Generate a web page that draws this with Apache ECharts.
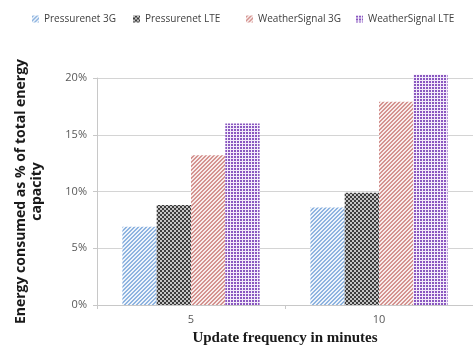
<!DOCTYPE html>
<html>
<head>
<meta charset="utf-8">
<script src="https://cdn.jsdelivr.net/npm/echarts@6/dist/echarts.min.js"></script>
<style>
  html, body { margin: 0; padding: 0; background: #fff; }
  #chart { width: 473px; height: 352px; }
</style>
</head>
<body>
<div id="chart"></div>
<script>
const categories = ["5", "10"];
const seriesNames = ["Pressurenet 3G", "Pressurenet LTE", "WeatherSignal 3G", "WeatherSignal LTE"];
const pressurenet3G = [6.9, 8.6];
const pressurenetLTE = [8.8, 9.9];
const weatherSignal3G = [13.2, 17.9];
const weatherSignalLTE = [16.0, 20.3];
const yMin = 0;
const yMax = 20;
const yStep = 5;

// small canvas tiles used as fill patterns
const makeTile = (size, pick) => {
  const c = document.createElement("canvas");
  c.width = c.height = size;
  const ctx = c.getContext("2d");
  for (let x = 0; x < size; x++) {
    for (let y = 0; y < size; y++) {
      ctx.fillStyle = pick(x, y);
      ctx.fillRect(x, y, 1, 1);
    }
  }
  return { image: c, repeat: "repeat" };
};

const bluePattern = makeTile(4, (x, y) => ((x + y) % 4 < 2 ? "#8fb4e0" : "#eef4fb"));
const checkPattern = makeTile(4, (x, y) =>
  (Math.floor(x / 2) + Math.floor(y / 2)) % 2 ? "#3c3c3c" : "#c4c4c4"
);
const redPattern = makeTile(4, (x, y) => ((x + y) % 4 < 2 ? "#d49390" : "#f8eceb"));
const purplePattern = makeTile(3, (x, y) => (x === 2 || y === 2 ? "#f3ecfa" : "#8a58c0"));

const patterns = [bluePattern, checkPattern, redPattern, purplePattern];
const values = [pressurenet3G, pressurenetLTE, weatherSignal3G, weatherSignalLTE];
const legendLeft = [27, 128, 241, 351];

const chart = echarts.init(document.getElementById("chart"));

const option = {
  animation: false,
  legend: seriesNames.map((name, i) => ({
    data: [name],
    left: legendLeft[i],
    top: 9,
    icon: "rect",
    itemWidth: 7,
    itemHeight: 7,
    itemGap: 4,
    textStyle: { fontSize: 10, color: "#404040", fontFamily: "Open Sans, sans-serif" },
  })),
  grid: { left: 97, top: 78, width: 384, bottom: 47 },
  xAxis: {
    type: "category",
    data: categories,
    name: "Update frequency in minutes",
    nameLocation: "middle",
    nameGap: 26,
    nameTextStyle: {
      fontSize: 15,
      fontWeight: "bold",
      color: "#1a1a1a",
      fontFamily: "Liberation Serif, serif",
    },
    axisLine: { lineStyle: { color: "#c8c8c8" } },
    axisTick: { show: true, length: 4, lineStyle: { color: "#c8c8c8" } },
    axisLabel: { color: "#595959", fontSize: 11, margin: 9, fontFamily: "Open Sans, sans-serif" },
  },
  yAxis: {
    type: "value",
    min: yMin,
    max: yMax,
    interval: yStep,
    name: "Energy consumed as % of total energy\ncapacity",
    nameLocation: "middle",
    nameRotate: 90,
    nameGap: 52,
    nameTextStyle: {
      fontSize: 14,
      fontWeight: "bold",
      color: "#1a1a1a",
      lineHeight: 16,
      fontFamily: "Open Sans, sans-serif",
    },
    axisLine: { show: true, lineStyle: { color: "#c8c8c8" } },
    axisTick: { show: true, length: 4, lineStyle: { color: "#c8c8c8" } },
    splitLine: { lineStyle: { color: "#d4d4d4" } },
    axisLabel: {
      formatter: "{value}%",
      color: "#595959",
      fontSize: 11,
      margin: 10,
      fontFamily: "Open Sans, sans-serif",
    },
  },
  series: seriesNames.map((name, i) => ({
    name,
    type: "bar",
    data: values[i],
    clip: false,
    barGap: "0%",
    barCategoryGap: "27%",
    itemStyle: { color: patterns[i] },
  })),
};

chart.setOption(option);
</script>
</body>
</html>
